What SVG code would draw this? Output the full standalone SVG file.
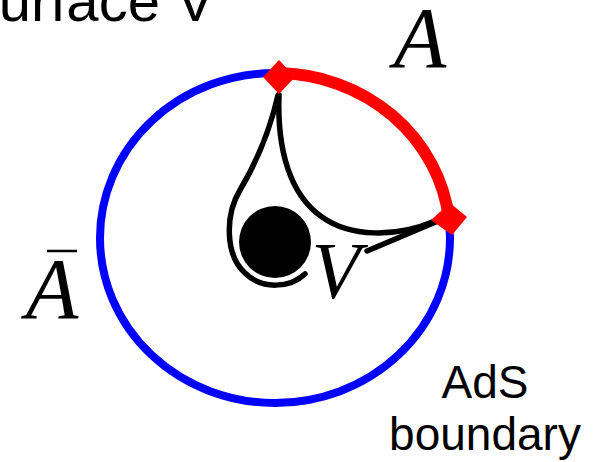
<svg xmlns="http://www.w3.org/2000/svg" width="601" height="462" viewBox="0 0 601 462">
<style>
.sans{font-family:"Liberation Sans",Arial,sans-serif;fill:#000}
.math{font-family:"Liberation Serif","Times New Roman",serif;font-style:italic;fill:#000}
.curve{fill:none;stroke:#000;stroke-width:5.5;stroke-linecap:round}
.marker{fill:#ff0000}
</style>
<rect width="601" height="462" fill="#fff"/>
<text class="sans" x="-40" y="21" font-size="58">Surface V</text>
<g id="boundary">
<ellipse cx="275" cy="238" rx="175" ry="165" fill="none" stroke="#0000ff" stroke-width="8"/>
</g>
<g id="regionA">
<path d="M 278 73 A 175 165 0 0 1 449 219" fill="none" stroke="#ff0000" stroke-width="12"/>
</g>
<g id="connectors">
<path class="curve" d="M 278 95 C 270 130, 255 165, 240 190 C 225 215, 225 255, 245 273 C 262 290, 290 288, 305 274"/>
<path class="curve" d="M 279 95 C 277 150, 290 195, 322 217 C 350 237, 395 238, 435 221"/>
<path class="curve" d="M 367 251 L 438 221" stroke-width="6.5"/>
</g>
<g id="blackhole">
<circle cx="275" cy="242" r="36" fill="#000"/>
</g>
<g id="endpoint1">
<polygon class="marker" points="263,77 279,60 295,77 279,94"/>
</g>
<g id="endpoint2">
<polygon class="marker" points="431,220 450,203 467,217 452,235"/>
</g>
<g id="labels">
<text class="math" x="420" y="67" font-size="86" text-anchor="middle">A</text>
<text class="math" x="52" y="318" font-size="86" text-anchor="middle">A</text>
<line x1="47" y1="251" x2="77" y2="251" stroke="#000" stroke-width="2.5"/>
<text class="math" x="336" y="298" font-size="80" text-anchor="middle">V</text>
<text class="sans" x="485" y="398" font-size="46" text-anchor="middle">AdS</text>
<text class="sans" x="485" y="450" font-size="46" text-anchor="middle">boundary</text>
</g>
</svg>
